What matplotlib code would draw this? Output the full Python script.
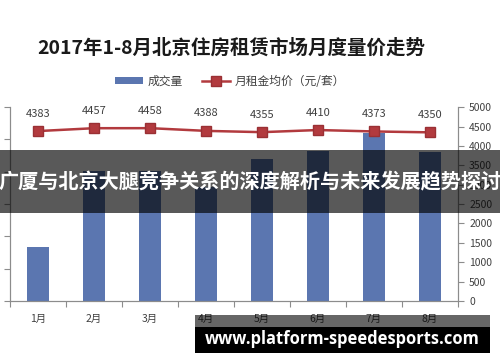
import matplotlib
matplotlib.use("Agg")
import matplotlib.pyplot as plt
from matplotlib.patches import Rectangle
import numpy as np

plt.rcParams['font.family'] = ['Noto Sans CJK SC', 'DejaVu Sans']

months = ['1月', '2月', '3月', '4月', '5月', '6月', '7月', '8月']
volume = [8350, 20100, 20100, 17650, 22000, 23200, 26000, 23050]
price = [4383, 4457, 4458, 4388, 4355, 4410, 4373, 4350]

title = '2017年1-8月北京住房租赁市场月度量价走势'
banner = '广厦与北京大腿竞争关系的深度解析与未来发展趋势探讨'
site = 'www.platform-speedesports.com'

BLUE = '#5b76b0'
RED = '#b23a3e'
GREY = '#8c8c8c'
TXT = '#404040'

fig = plt.figure(figsize=(5, 3.62), dpi=100)
ax = fig.add_axes([0.02, 0.1685, 0.896, 0.5355])
ax2 = ax.twinx()

x = np.arange(len(months))
ax.bar(x, volume, width=0.4, color=BLUE, label='成交量')
ax.set_ylim(0, 30000)
ax.set_yticks(np.arange(0, 30001, 5000))
ax.set_yticklabels([])
ax.set_xlim(-0.5, 7.5)
ax.set_xticks(np.arange(-0.5, 8, 1))
ax.set_xticklabels([])
ax.set_xticks(x, minor=True)
ax.set_xticklabels(months, minor=True, fontsize=7.5, color=TXT)
ax.tick_params(axis='x', which='minor', length=0, pad=9)
ax.tick_params(axis='x', which='major', length=4, color=GREY, direction='out')
ax.tick_params(axis='y', length=4, color=GREY, direction='out')

ax2.plot(x, price, color=RED, lw=1.8, marker='s', markersize=7,
         markerfacecolor=RED, markeredgecolor='#9a3034', label='月租金均价（元/套）')
for xi, p in zip(x, price):
    ax2.annotate(str(p), (xi, p), xytext=(0, 9), textcoords='offset points',
                 ha='center', va='bottom', fontsize=8, color=TXT)
ax2.set_ylim(0, 5000)
ax2.set_yticks(np.arange(0, 5001, 500))
ax2.tick_params(axis='y', length=4, color=GREY, labelsize=7.5, labelcolor=TXT, pad=4)

for a in (ax, ax2):
    a.spines['top'].set_visible(False)
    for s in ('left', 'right', 'bottom'):
        a.spines[s].set_color(GREY)
        a.spines[s].set_linewidth(0.8)

fig.text(0.074, 0.866, title, fontsize=14, fontweight='bold', color='#1a1a1a', va='center')

h1, l1 = ax.get_legend_handles_labels()
h2, l2 = ax2.get_legend_handles_labels()
fig.legend(h1 + h2, l1 + l2, loc='center', bbox_to_anchor=(0.46, 0.776), ncol=2,
           frameon=False, fontsize=8.5, handlelength=2.4, handleheight=0.6,
           columnspacing=1.6, handletextpad=0.4, labelcolor=TXT)

# overlay band with caption
fig.add_artist(Rectangle((0, 0.4116), 1, 0.174, transform=fig.transFigure,
                         facecolor='black', alpha=0.65, edgecolor='none', zorder=5))
fig.text(0.5, 0.497, banner, fontsize=14.5, fontweight='bold', color='white',
         ha='center', va='center', zorder=6)

# bottom site label
fig.add_artist(Rectangle((0.39, 0.0967), 0.59, 0.0331, transform=fig.transFigure,
                         facecolor='black', alpha=0.6, edgecolor='none', zorder=5))
fig.add_artist(Rectangle((0.39, 0.0249), 0.59, 0.0718, transform=fig.transFigure,
                         facecolor='black', edgecolor='none', zorder=5))
fig.text(0.685, 0.063, site, fontsize=11.9, fontweight='bold', color='white',
         ha='center', va='center', zorder=6, family=['Open Sans', 'DejaVu Sans'])

fig.savefig('out.png', dpi=100)
